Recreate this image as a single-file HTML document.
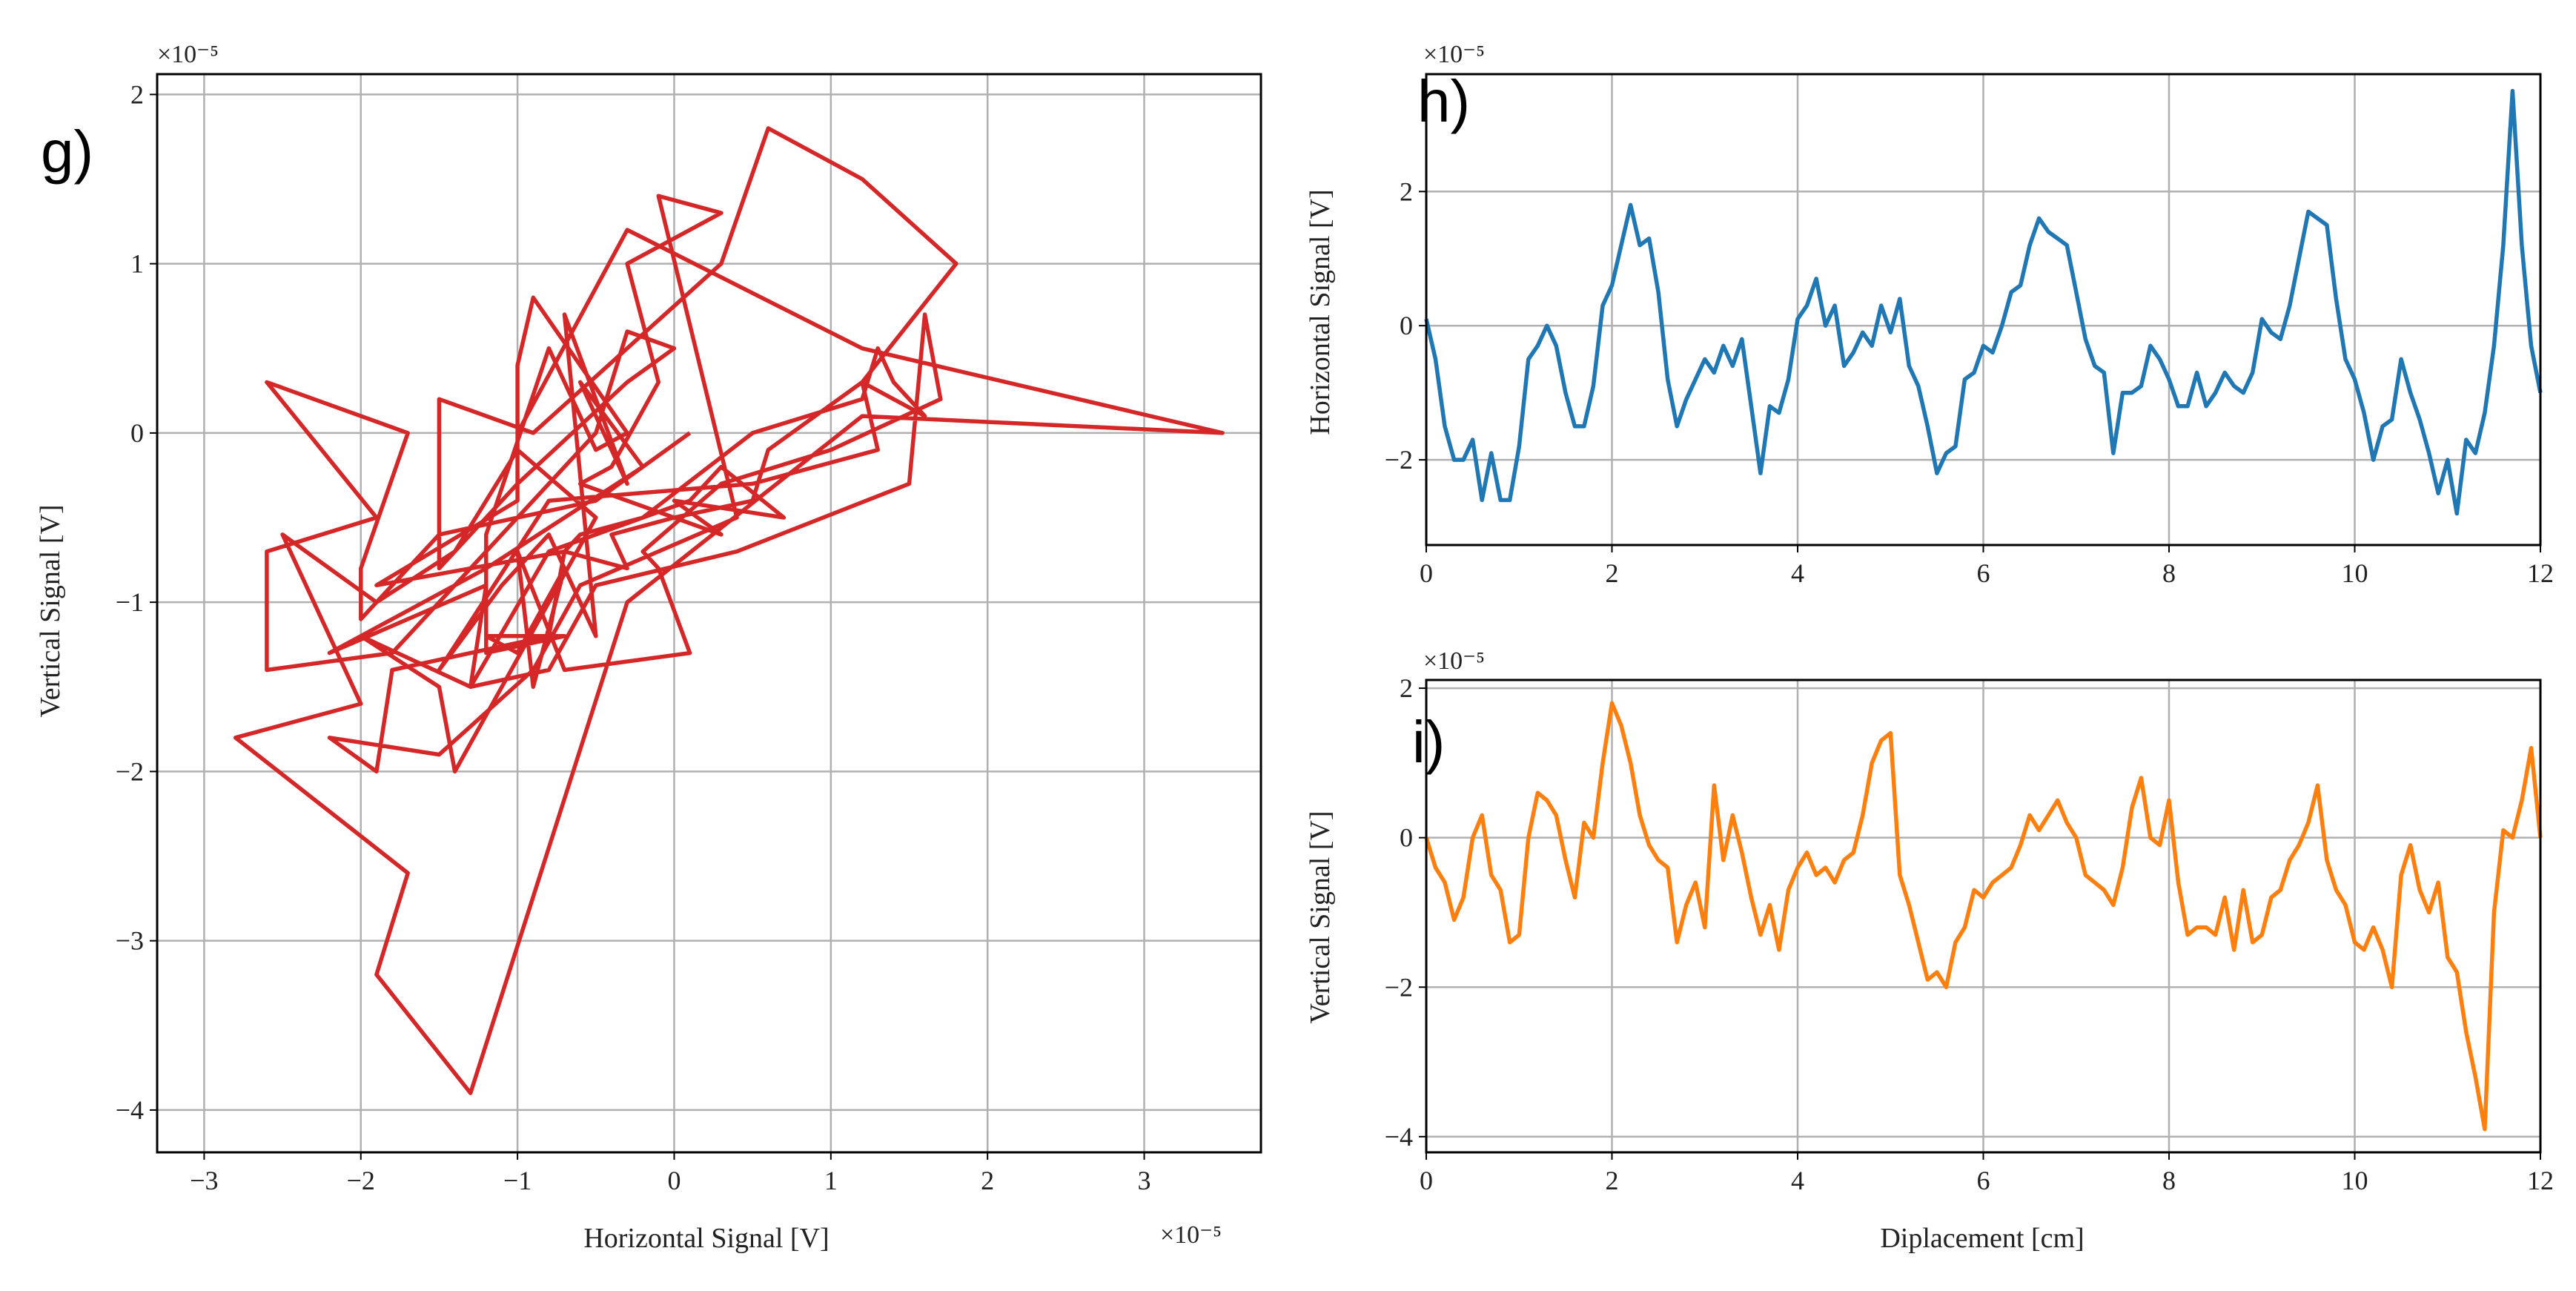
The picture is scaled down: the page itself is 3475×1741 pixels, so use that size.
<!DOCTYPE html>
<html><head><meta charset="utf-8">
<style>
html,body{margin:0;padding:0;background:#fff;}
svg{display:block;font-family:"Liberation Serif",serif;}
</style></head>
<body>
<svg id="fig" width="3475" height="1741" viewBox="0 0 3475 1741" xmlns="http://www.w3.org/2000/svg">
<rect width="3475" height="1741" fill="#fff"/>
<g id="g-panel"></g>
<g id="h-panel"></g>
<g id="i-panel"></g>
</svg>
<script>
const displacement = [];
for (let k = 0; k <= 120; k++) displacement.push(k / 10);
const horizontalSignal = [0.1,-0.5,-1.5,-2.0,-2.0,-1.7,-2.6,-1.9,-2.6,-2.6,-1.8,-0.5,-0.3,0.0,-0.3,-1.0,-1.5,-1.5,-0.9,0.3,
0.6,1.2,1.8,1.2,1.3,0.5,-0.8,-1.5,-1.1,-0.8,-0.5,-0.7,-0.3,-0.6,-0.2,-1.2,-2.2,-1.2,-1.3,-0.8,
0.1,0.3,0.7,0.0,0.3,-0.6,-0.4,-0.1,-0.3,0.3,-0.1,0.4,-0.6,-0.9,-1.5,-2.2,-1.9,-1.8,-0.8,-0.7,
-0.3,-0.4,0.0,0.5,0.6,1.2,1.6,1.4,1.3,1.2,0.5,-0.2,-0.6,-0.7,-1.9,-1.0,-1.0,-0.9,-0.3,-0.5,
-0.8,-1.2,-1.2,-0.7,-1.2,-1.0,-0.7,-0.9,-1.0,-0.7,0.1,-0.1,-0.2,0.3,1.0,1.7,1.6,1.5,0.4,-0.5,
-0.8,-1.3,-2.0,-1.5,-1.4,-0.5,-1.0,-1.4,-1.9,-2.5,-2.0,-2.8,-1.7,-1.9,-1.3,-0.3,1.2,3.5,1.2,-0.3,-1.0];
const verticalSignal = [0,-0.4,-0.6,-1.1,-0.8,0.0,0.3,-0.5,-0.7,-1.4,-1.3,0.0,0.6,0.5,0.3,-0.3,-0.8,0.2,0.0,1.0,
1.8,1.5,1.0,0.3,-0.1,-0.3,-0.4,-1.4,-0.9,-0.6,-1.2,0.7,-0.3,0.3,-0.2,-0.8,-1.3,-0.9,-1.5,-0.7,
-0.4,-0.2,-0.5,-0.4,-0.6,-0.3,-0.2,0.3,1.0,1.3,1.4,-0.5,-0.9,-1.4,-1.9,-1.8,-2.0,-1.4,-1.2,-0.7,
-0.8,-0.6,-0.5,-0.4,-0.1,0.3,0.1,0.3,0.5,0.2,0.0,-0.5,-0.6,-0.7,-0.9,-0.4,0.4,0.8,0.0,-0.1,
0.5,-0.6,-1.3,-1.2,-1.2,-1.3,-0.8,-1.5,-0.7,-1.4,-1.3,-0.8,-0.7,-0.3,-0.1,0.2,0.7,-0.3,-0.7,-0.9,
-1.4,-1.5,-1.2,-1.5,-2.0,-0.5,-0.1,-0.7,-1.0,-0.6,-1.6,-1.8,-2.6,-3.2,-3.9,-1.0,0.1,0.0,0.5,1.2,0.0];
const gXTicks = [-3,-2,-1,0,1,2,3];
const gYTicks = [-4,-3,-2,-1,0,1,2];
const dispTicks = [0,2,4,6,8,10,12];
const hYTicks = [-2,0,2];
const iYTicks = [-4,-2,0,2];

const NS = "http://www.w3.org/2000/svg";
function mk(parent, tag, attrs, text) {
  const e = document.createElementNS(NS, tag);
  for (const k in attrs) e.setAttribute(k, attrs[k]);
  if (text !== undefined) e.textContent = text;
  parent.appendChild(e);
  return e;
}
function fmt(v){ return v < 0 ? "\u2212" + Math.abs(v) : String(v); }

function panel(g, box, xd, yd, xticks, yticks, xs, ys, color, name) {
  const sx = v => box.l + (v - xd[0]) / (xd[1] - xd[0]) * (box.r - box.l);
  const sy = v => box.b - (v - yd[0]) / (yd[1] - yd[0]) * (box.b - box.t);
  xticks.forEach(t => {
    const ln = mk(g, "line", {x1: sx(t), x2: sx(t), y1: box.t, y2: box.b, stroke: "#b0b0b0", "stroke-width": 2.5});
    
    
    mk(g, "line", {x1: sx(t), x2: sx(t), y1: box.b, y2: box.b + 10, stroke: "#000", "stroke-width": 2});
    const tx = mk(g, "text", {x: sx(t), y: box.b + 50, "font-size": 36, "text-anchor": "middle", fill: "#222"}, fmt(t));
    
    
  });
  yticks.forEach(t => {
    const ln = mk(g, "line", {x1: box.l, x2: box.r, y1: sy(t), y2: sy(t), stroke: "#b0b0b0", "stroke-width": 2.5});
    
    
    mk(g, "line", {x1: box.l - 10, x2: box.l, y1: sy(t), y2: sy(t), stroke: "#000", "stroke-width": 2});
    const tx = mk(g, "text", {x: box.l - 18, y: sy(t) + 12, "font-size": 36, "text-anchor": "end", fill: "#222"}, fmt(t));
    
    
  });
  let d = "";
  xs.forEach((x, k) => { d += (k ? "L" : "M") + sx(x).toFixed(1) + "," + sy(ys[k]).toFixed(1); });
  const p = mk(g, "path", {d: d, fill: "none", stroke: color, "stroke-width": 5.5, "stroke-linejoin": "round"});
  
  
  const fr = mk(g, "rect", {x: box.l, y: box.t, width: box.r - box.l, height: box.b - box.t, fill: "none", stroke: "#000", "stroke-width": 3});
  
  
}

const gG = document.getElementById("g-panel");
panel(gG, {l: 212, r: 1701, t: 100, b: 1554}, [-3.3, 3.745], [-4.25, 2.12], gXTicks, gYTicks, horizontalSignal, verticalSignal, "#d62728", "trajectory-line");
const gH = document.getElementById("h-panel");
panel(gH, {l: 1924, r: 3427, t: 100, b: 735}, [0, 12], [-3.27, 3.75], dispTicks, hYTicks, displacement, horizontalSignal, "#1f77b4", "horizontal-signal-line");
const gI = document.getElementById("i-panel");
panel(gI, {l: 1924, r: 3427, t: 917, b: 1554}, [0, 12], [-4.21, 2.11], dispTicks, iYTicks, displacement, verticalSignal, "#ff7f0e", "vertical-signal-line");

function label(parent, attrs, text, name) {
  const t = mk(parent, "text", attrs, text);
  
  
  return t;
}
const fig = document.getElementById("fig");
label(fig, {x: 953, y: 1682, "font-size": 38, "text-anchor": "middle", fill: "#222"}, "Horizontal Signal [V]", "x-axis-title-g");
label(fig, {x: 0, y: 0, "font-size": 38, "text-anchor": "middle", fill: "#222", transform: "translate(80,824) rotate(-90)"}, "Vertical Signal [V]", "y-axis-title-g");
label(fig, {x: 1565, y: 1676, "font-size": 34, fill: "#222"}, "\u00d710\u207b\u2075", "x-offset-g");
label(fig, {x: 212, y: 84, "font-size": 34, fill: "#222"}, "\u00d710\u207b\u2075", "y-offset-g");
label(fig, {x: 2674, y: 1682, "font-size": 38, "text-anchor": "middle", fill: "#222"}, "Diplacement [cm]", "x-axis-title-i");
label(fig, {x: 0, y: 0, "font-size": 38, "text-anchor": "middle", fill: "#222", transform: "translate(1793,421) rotate(-90)"}, "Horizontal Signal [V]", "y-axis-title-h");
label(fig, {x: 0, y: 0, "font-size": 38, "text-anchor": "middle", fill: "#222", transform: "translate(1793,1237) rotate(-90)"}, "Vertical Signal [V]", "y-axis-title-i");
label(fig, {x: 1920, y: 84, "font-size": 34, fill: "#222"}, "\u00d710\u207b\u2075", "y-offset-h");
label(fig, {x: 1920, y: 902, "font-size": 34, fill: "#222"}, "\u00d710\u207b\u2075", "y-offset-i");
label(fig, {x: 55, y: 232, "font-size": 80, fill: "#000", "font-family": "Liberation Sans, sans-serif"}, "g)", "panel-label-g");
label(fig, {x: 1912, y: 164, "font-size": 80, fill: "#000", "font-family": "Liberation Sans, sans-serif"}, "h)", "panel-label-h");
label(fig, {x: 1905, y: 1028, "font-size": 80, fill: "#000", "font-family": "Liberation Sans, sans-serif"}, "i)", "panel-label-i");
</script>
</body></html>
